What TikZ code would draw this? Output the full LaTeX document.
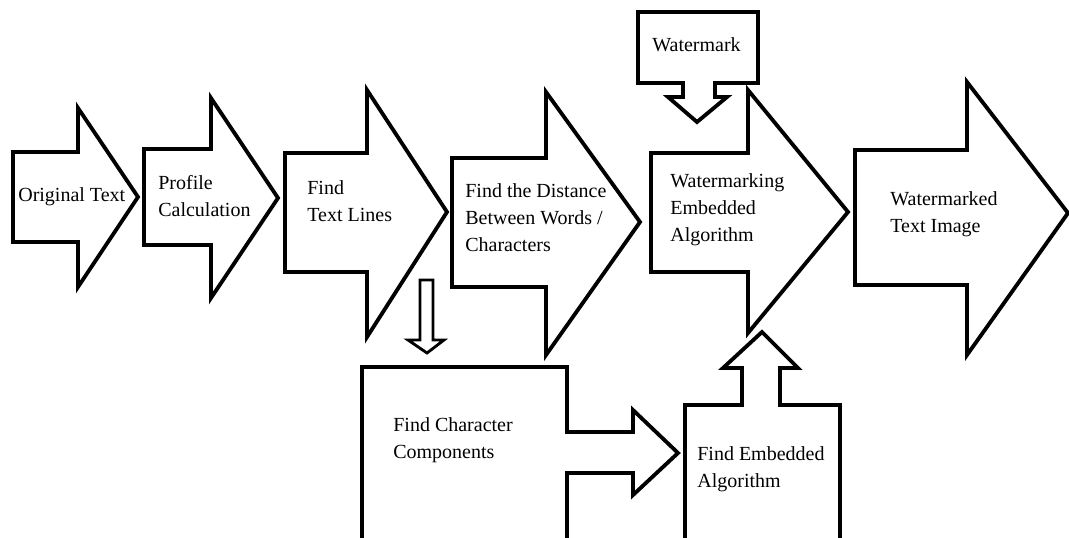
\documentclass[tikz,border=0pt]{standalone}
\usepackage{fontspec}
\setmainfont{Liberation Serif}
\begin{document}
\begin{tikzpicture}[x=0.6pt, y=-0.6pt,
    blockarrow/.style={draw, line width=2.3pt, fill=white, line join=miter},
    thinarrow/.style={draw, line width=1.7pt, fill=white, line join=miter},
    label/.style={anchor=west, align=left, inner sep=0pt, font=\fontsize{12}{16.2}\selectfont}]

    \useasboundingbox (0,0) rectangle (1069,537);
    \clip (0,0) rectangle (1069,537);

    % Block arrows
    \draw [blockarrow] (13,152) -- (78,152) -- (78,108) -- (138,197) -- (78,287) -- (78,242) -- (13,242) -- cycle;
    \draw [blockarrow] (144,149) -- (211,149) -- (211,98) -- (278,198) -- (211,298) -- (211,245) -- (144,245) -- cycle;
    \draw [blockarrow] (285,153) -- (367,153) -- (367,90) -- (447,212) -- (367,337) -- (367,272) -- (285,272) -- cycle;
    \draw [blockarrow] (452,158) -- (546,158) -- (546,92) -- (640,222) -- (546,355) -- (546,287) -- (452,287) -- cycle;
    \draw [blockarrow] (651,153) -- (748,153) -- (748,90) -- (848,212) -- (748,333) -- (748,272) -- (651,272) -- cycle;
    \draw [blockarrow] (855,150) -- (967,150) -- (967,82) -- (1068,213) -- (967,355) -- (967,285) -- (855,285) -- cycle;

    % Callouts
    \draw [blockarrow] (638,12) -- (758,12) -- (758,83) -- (715,83) -- (715,97) -- (727,97) -- (697,122)
        -- (668,97) -- (683,97) -- (683,83) -- (638,83) -- cycle;
    \draw [thinarrow] (420,280) -- (433,280) -- (433,340) -- (444,340) -- (427,353) -- (408,340) -- (420,340) -- cycle;
    \draw [blockarrow] (362,367) -- (567,367) -- (567,432) -- (633,432) -- (633,410) -- (678,453) -- (633,495)
        -- (633,473) -- (567,473) -- (567,560) -- (362,560) -- cycle;
    \draw [blockarrow] (685,405) -- (742,405) -- (742,368) -- (723,368) -- (762,332) -- (798,368) -- (780,368)
        -- (780,405) -- (840,405) -- (840,560) -- (685,560) -- cycle;

    % Labels
    \node (orig) [label] at (18,197) {Original Text};
    \node (profile) [label] at (158,196) {Profile\\Calculation};
    \node (lines) [label] at (307,201) {Find\\Text Lines};
    \node (dist) [label] at (465,218) {Find the Distance\\Between Words /\\Characters};
    \node (wmark) [label] at (652,45) {Watermark};
    \node (embed) [label] at (670,210) {Watermarking\\Embedded\\Algorithm};
    \node (result) [label] at (890,214) {Watermarked\\Text Image};
    \node (comp) [label] at (393,440) {Find Character\\Components};
    \node (findalg) [label] at (697,469) {Find Embedded\\Algorithm};

\end{tikzpicture}
\end{document}
